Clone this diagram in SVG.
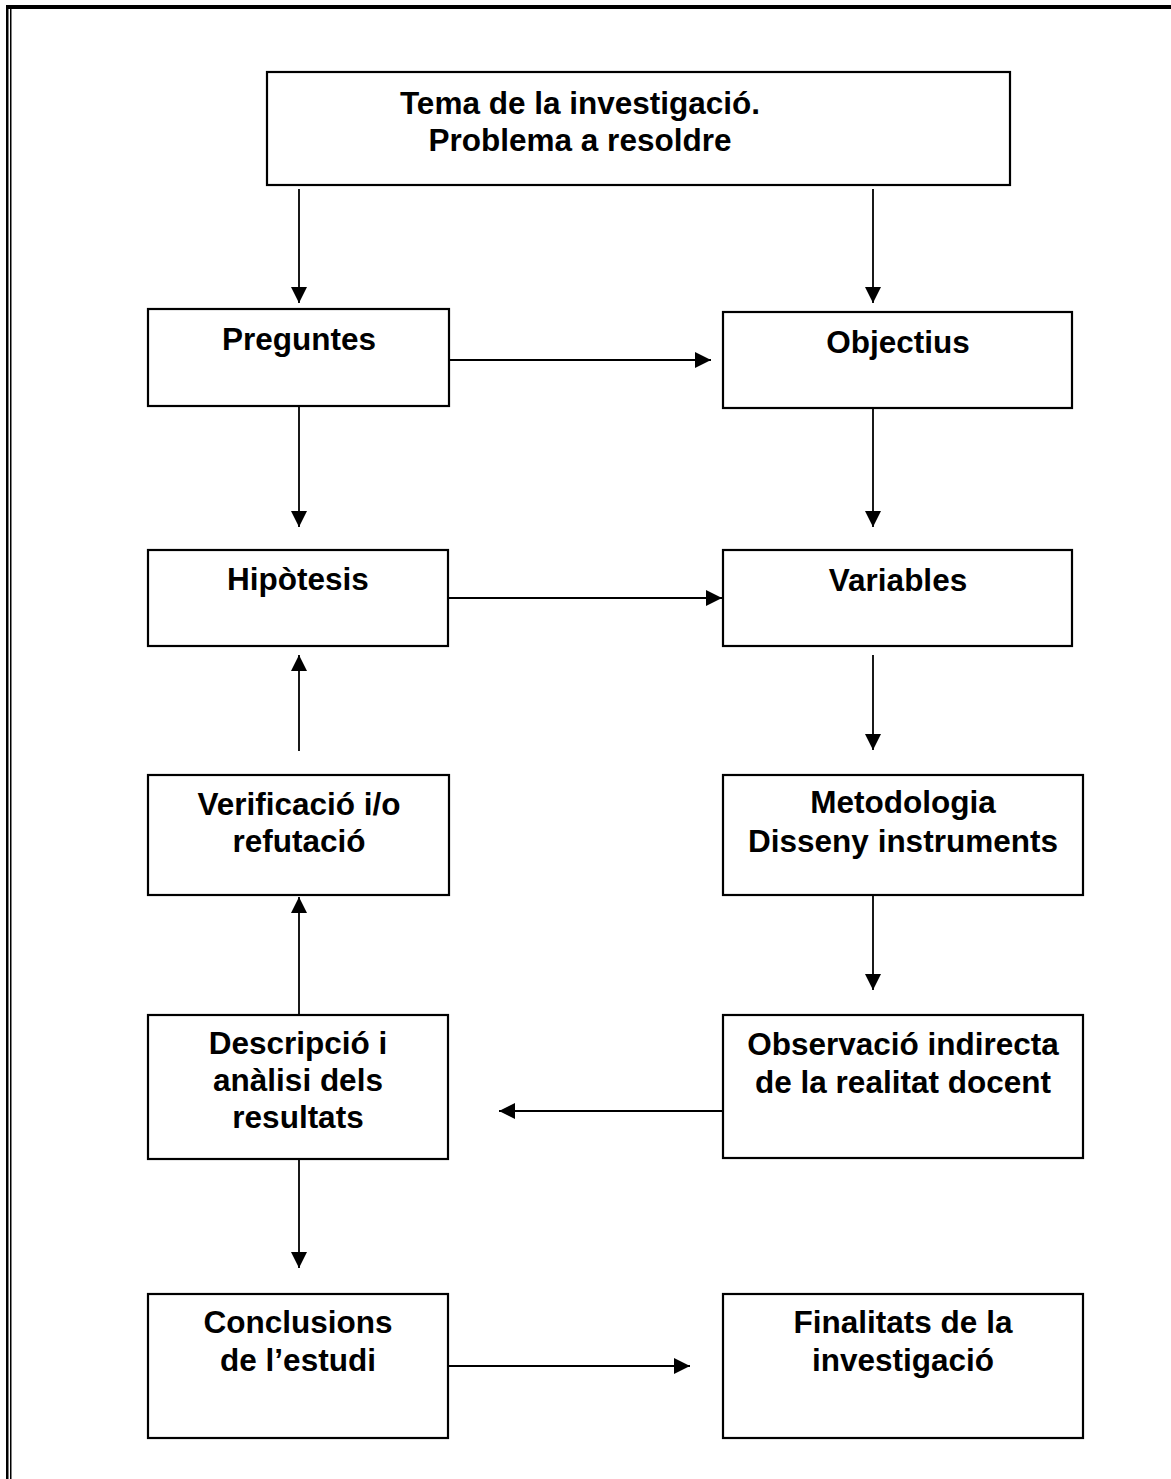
<svg xmlns="http://www.w3.org/2000/svg" width="1171" height="1479" viewBox="0 0 1171 1479">
<style>
.box{fill:#fff;stroke:#000;stroke-width:2.2}
.lbl{font-family:"Liberation Sans",Arial,sans-serif;font-weight:bold;font-size:31.5px;fill:#000;text-anchor:middle}
.con{stroke:#000;stroke-width:1.8;fill:none;marker-end:url(#ah)}
</style>
<defs>
<marker id="ah" markerUnits="userSpaceOnUse" markerWidth="16" markerHeight="16" refX="16" refY="8" orient="auto">
<path d="M0,0 L16,8 L0,16 z" fill="#000"/>
</marker>
</defs>
<rect width="1171" height="1479" fill="#fff"/>
<g id="frame">
<rect x="6" y="5" width="1165" height="4" fill="#000"/>
<rect x="6" y="5" width="2.5" height="1474" fill="#000"/>
<rect x="10" y="9" width="1.5" height="1470" fill="#000"/>
</g>
<g id="connectors">
<line class="con" x1="299" y1="189" x2="299" y2="303"/>
<line class="con" x1="873" y1="189" x2="873" y2="303"/>
<line class="con" x1="449" y1="360" x2="711" y2="360"/>
<line class="con" x1="299" y1="406" x2="299" y2="527"/>
<line class="con" x1="873" y1="408" x2="873" y2="527"/>
<line class="con" x1="448" y1="598" x2="722" y2="598"/>
<line class="con" x1="299" y1="751" x2="299" y2="655"/>
<line class="con" x1="873" y1="655" x2="873" y2="750"/>
<line class="con" x1="299" y1="1015" x2="299" y2="897"/>
<line class="con" x1="873" y1="895" x2="873" y2="990"/>
<line class="con" x1="723" y1="1111" x2="499" y2="1111"/>
<line class="con" x1="299" y1="1159" x2="299" y2="1268"/>
<line class="con" x1="448" y1="1366" x2="690" y2="1366"/>
</g>
<g id="tema">
<rect class="box" x="267" y="72" width="743" height="113"/>
<text class="lbl" x="580" y="114">Tema de la investigació.</text>
<text class="lbl" x="580" y="151">Problema a resoldre</text>
</g>
<g id="preguntes">
<rect class="box" x="148" y="309" width="301" height="97"/>
<text class="lbl" x="299" y="350">Preguntes</text>
</g>
<g id="objectius">
<rect class="box" x="723" y="312" width="349" height="96"/>
<text class="lbl" x="898" y="353">Objectius</text>
</g>
<g id="hipotesis">
<rect class="box" x="148" y="550" width="300" height="96"/>
<text class="lbl" x="298" y="590">Hipòtesis</text>
</g>
<g id="variables">
<rect class="box" x="723" y="550" width="349" height="96"/>
<text class="lbl" x="898" y="591">Variables</text>
</g>
<g id="verificacio">
<rect class="box" x="148" y="775" width="301" height="120"/>
<text class="lbl" x="299" y="815">Verificació i/o</text>
<text class="lbl" x="299" y="852">refutació</text>
</g>
<g id="metodologia">
<rect class="box" x="723" y="775" width="360" height="120"/>
<text class="lbl" x="903" y="813">Metodologia</text>
<text class="lbl" x="903" y="852">Disseny instruments</text>
</g>
<g id="descripcio">
<rect class="box" x="148" y="1015" width="300" height="144"/>
<text class="lbl" x="298" y="1054">Descripció i</text>
<text class="lbl" x="298" y="1091">anàlisi dels</text>
<text class="lbl" x="298" y="1128">resultats</text>
</g>
<g id="observacio">
<rect class="box" x="723" y="1015" width="360" height="143"/>
<text class="lbl" x="903" y="1055">Observació indirecta</text>
<text class="lbl" x="903" y="1093">de la realitat docent</text>
</g>
<g id="conclusions">
<rect class="box" x="148" y="1294" width="300" height="144"/>
<text class="lbl" x="298" y="1333">Conclusions</text>
<text class="lbl" x="298" y="1371">de l’estudi</text>
</g>
<g id="finalitats">
<rect class="box" x="723" y="1294" width="360" height="144"/>
<text class="lbl" x="903" y="1333">Finalitats de la</text>
<text class="lbl" x="903" y="1371">investigació</text>
</g>
</svg>
